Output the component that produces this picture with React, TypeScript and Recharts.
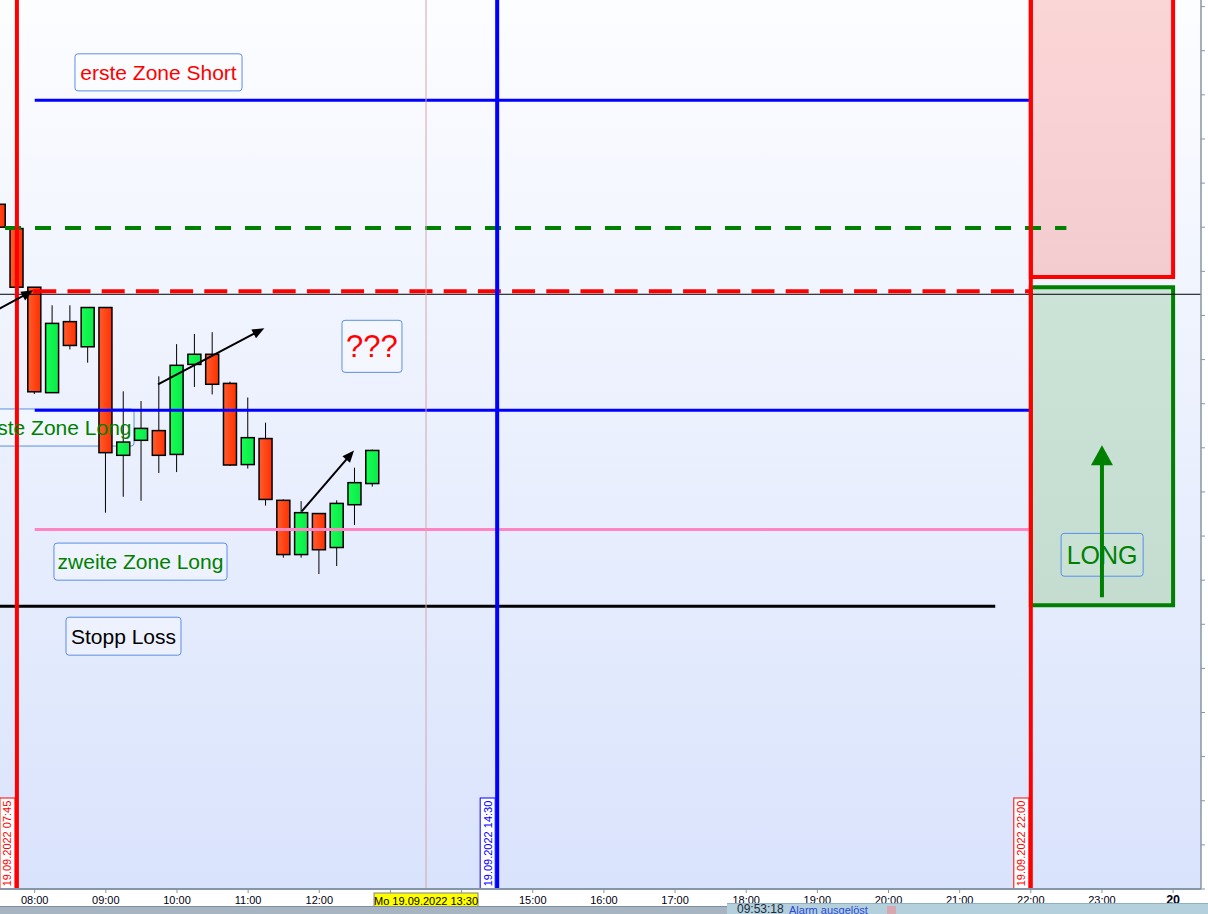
import React from 'react';
import { ComposedChart, Bar, XAxis, YAxis, ReferenceLine, ReferenceArea, CartesianGrid } from 'recharts';

const FONT = 'Arial, "Liberation Sans", sans-serif';

// ---- 15-minute candles (time in hours, prices) ----
const times = [7.5, 7.75, 8, 8.25, 8.5, 8.75, 9, 9.25, 9.5, 9.75, 10, 10.25, 10.5, 10.75, 11, 11.25, 11.5, 11.75, 12, 12.25, 12.5, 12.75];
const opens = [12815.2, 12809.7, 12796.4, 12772.5, 12788.6, 12782.9, 12791.8, 12758.3, 12761.7, 12763.9, 12758.5, 12778.9, 12781.2, 12774.6, 12756.2, 12762.1, 12748.1, 12735.8, 12745.1, 12737.4, 12747.1, 12751.9];
const highs = [12815.2, 12809.9, 12796.4, 12792.3, 12792.3, 12791.8, 12791.8, 12772.8, 12770.6, 12776.2, 12783.5, 12785.8, 12786.2, 12775.0, 12771.4, 12765.7, 12748.3, 12747.9, 12745.1, 12748.1, 12755.5, 12759.6];
const lows = [12809.9, 12796.2, 12772.2, 12772.5, 12782.3, 12779.3, 12745.3, 12748.9, 12748.0, 12754.3, 12754.5, 12773.8, 12772.1, 12755.9, 12755.3, 12746.9, 12735.1, 12735.1, 12731.4, 12733.2, 12742.5, 12751.2];
const closes = [12810.0, 12796.4, 12772.7, 12788.2, 12783.2, 12791.8, 12758.9, 12761.3, 12764.4, 12758.3, 12778.7, 12781.2, 12774.4, 12756.1, 12762.3, 12748.3, 12735.8, 12745.3, 12736.9, 12747.4, 12752.1, 12759.4];

// ---- axes ----
const X_DOMAIN: [number, number] = [7.5123, 24.392];
const Y_DOMAIN: [number, number] = [12660, 12861.5];
const xTicks = [8, 9, 10, 11, 12, 13, 14, 15, 16, 17, 18, 19, 20, 21, 22, 23, 24];
const xTickLabels = ['08:00', '09:00', '10:00', '11:00', '12:00', '13:00', '14:00', '15:00', '16:00', '17:00', '18:00', '19:00', '20:00', '21:00', '22:00', '23:00', '20'];
const yTicks = [12660, 12670, 12680, 12690, 12700, 12710, 12720, 12730, 12740, 12750, 12760, 12770, 12780, 12790, 12800, 12810, 12820, 12830, 12840, 12850, 12860];

// ---- horizontal levels ----
const levelPrices = [12838.8, 12809.8, 12795.5, 12768.5, 12741.5, 12724.1];
const levelStart = [8, 7.583, 7.98, 8, 8, 7.3];
const levelEnd = [22, 22.5, 22, 22, 22, 21.5];
const levelStyles = [
  { stroke: '#0000ff', w: 3, dash: undefined as string | undefined },
  { stroke: '#008000', w: 4, dash: '16 14' },
  { stroke: '#ff0000', w: 4, dash: '23 11.2' },
  { stroke: '#0000ff', w: 3, dash: undefined },
  { stroke: '#ff85c2', w: 3, dash: undefined },
  { stroke: '#000000', w: 3, dash: undefined },
];
const lastPrice = 12794.8;

// ---- vertical markers ----
const vTimes = [7.75, 14.5, 22];
const vLabels = ['19.09.2022 07:45', '19.09.2022 14:30', '19.09.2022 22:00'];
const vColors = ['#ff0000', '#0000ff', '#ff0000'];
const crossTime = 13.5;
const crossLabel = 'Mo 19.09.2022 13:30';

// ---- zones ----
const zoneX1 = [22, 22];
const zoneX2 = [24, 24];
const zoneLow = [12798.7, 12724.3];
const zoneHigh = [12875, 12796.4];
const zoneStyles = [
  { stroke: '#ff0000', fill: 'url(#zoneRed)' },
  { stroke: '#008000', fill: 'url(#zoneGreen)' },
];

// ---- notes ----
const noteTexts = ['erste Zone Short', '???', 'erste Zone Long', 'zweite Zone Long', 'Stopp Loss', 'LONG'];
const noteX1 = [8.566, 12.319, 7.175, 8.271, 8.44, 22.426];
const noteX2 = [10.914, 13.162, 9.396, 10.703, 10.056, 23.579];
const noteLow = [12840.9, 12777.1, 12760.4, 12730.0, 12713.0, 12730.9];
const noteHigh = [12849.3, 12788.9, 12768.8, 12738.4, 12721.6, 12740.6];
const noteStyles = [
  { color: '#ff0000', size: 21, fill: '#ffffff', op: 0.35 },
  { color: '#ff0000', size: 31, fill: '#ffffff', op: 0.35 },
  { color: '#008000', size: 21, fill: '#ffffff', op: 0.35 },
  { color: '#008000', size: 21, fill: '#ffffff', op: 0.35 },
  { color: '#000000', size: 21, fill: '#ffffff', op: 0.35 },
  { color: '#008000', size: 25, fill: '#c9e2d5', op: 1 },
];

// ---- arrows ----
const arrowFromT = [7.4, 9.733, 11.753, 23.0];
const arrowFromP = [12790.6, 12774.4, 12745.6, 12726.1];
const arrowToT = [7.98, 11.227, 12.488, 23.0];
const arrowToP = [12795.7, 12787.1, 12759.4, 12760.6];
const arrowStyles = [
  { color: '#000000', w: 2, len: 12, head: 10 },
  { color: '#000000', w: 2, len: 12, head: 10 },
  { color: '#000000', w: 2, len: 12, head: 10 },
  { color: '#008000', w: 4, len: 20, head: 22 },
];

const candleData = times.map((t, i) => ({
  t,
  range: [lows[i], highs[i]],
  o: opens[i],
  h: highs[i],
  l: lows[i],
  c: closes[i],
}));

const Candle = (props: any) => {
  const { x, y, width, height, payload } = props;
  if (!payload) return null;
  const { o, h, l, c } = payload;
  const ratio = height / (h - l || 1);
  const top = y + (h - Math.max(o, c)) * ratio;
  const bot = y + (h - Math.min(o, c)) * ratio;
  const cx = x + width / 2;
  const up = c >= o;
  return (
    <g>
      <line x1={cx} x2={cx} y1={y} y2={y + height} stroke="#000" strokeWidth={1} />
      <rect x={x} y={top} width={width} height={Math.max(1, bot - top)} fill={up ? 'url(#candleGreen)' : 'url(#candleRed)'} stroke="#000" strokeWidth={1.5} />
    </g>
  );
};

const XTick = (props: any) => {
  const { x, y, payload } = props;
  // labels under the crosshair time box are covered by it
  if (Math.abs(payload.value - crossTime) <= 0.75) return null;
  const idx = xTicks.indexOf(payload.value);
  const label = idx >= 0 ? xTickLabels[idx] : '';
  const bold = payload.value === 24;
  return (
    <text x={x} y={y + 9} textAnchor="middle" fontFamily={FONT} fontSize={bold ? 12.5 : 11} fontWeight={bold ? 'bold' : 'normal'} fill="#000010">
      {label}
    </text>
  );
};

const makeArrow = (s: { color: string; w: number; len: number; head: number }) => (p: any) => {
  const { x1, y1, x2, y2 } = p;
  const dx = x2 - x1;
  const dy = y2 - y1;
  const L = Math.hypot(dx, dy) || 1;
  const ux = dx / L;
  const uy = dy / L;
  const bx = x2 - ux * s.len;
  const by = y2 - uy * s.len;
  const px = -uy;
  const py = ux;
  const hw = s.head / 2;
  return (
    <g clipPath={p.clipPath}>
      <line x1={x1} y1={y1} x2={bx + ux * 2} y2={by + uy * 2} stroke={s.color} strokeWidth={s.w} />
      <polygon points={`${x2},${y2} ${bx + px * hw},${by + py * hw} ${bx - px * hw},${by - py * hw}`} fill={s.color} />
    </g>
  );
};

const vLabel = (text: string, color: string) => (props: any) => {
  const vb = props.viewBox || {};
  const bottom = vb.y + vb.height;
  const w = 15;
  const h = 91;
  const rx = vb.x - 2 - w;
  const ry = bottom - h;
  const cx = rx + w / 2;
  const cy = ry + h / 2;
  return (
    <g>
      <rect x={rx} y={ry} width={w} height={h} fill="#ffffff" stroke={color} strokeWidth={1} />
      <text x={cx} y={cy} textAnchor="middle" dominantBaseline="central" fontFamily={FONT} fontSize={11} fill={color} transform={`rotate(-90 ${cx} ${cy})`}>
        {text}
      </text>
    </g>
  );
};

const crossLabelRender = (props: any) => {
  const vb = props.viewBox || {};
  const bottom = vb.y + vb.height;
  const w = 104;
  return (
    <g>
      <rect x={vb.x - w / 2} y={bottom + 4} width={w} height={15} fill="#ffff00" stroke="#808080" strokeWidth={1} />
      <text x={vb.x} y={bottom + 15.5} textAnchor="middle" fontFamily={FONT} fontSize={11} fill="#000">
        {crossLabel}
      </text>
    </g>
  );
};

const noteShape = (s: { fill: string; op: number }) => (p: any) => (
  <rect x={p.x} y={p.y} width={p.width} height={p.height} rx={3} ry={3} fill={s.fill} fillOpacity={s.op} stroke="#5b8ee6" strokeWidth={1} clipPath={p.clipPath} />
);

export default function App() {
  return (
    <div style={{ position: 'absolute', left: 0, top: 0, width: 1208, height: 914, overflow: 'hidden', background: '#ffffff' }}>
      <svg width={0} height={0} style={{ position: 'absolute' }}>
        <defs>
          <linearGradient id="bgGrad" x1="0" y1="0" x2="0" y2="1">
            <stop offset="0%" stopColor="#fcfdff" />
            <stop offset="100%" stopColor="#d9e3fc" />
          </linearGradient>
          <linearGradient id="zoneRed" x1="0" y1="0" x2="0" y2="1">
            <stop offset="0%" stopColor="#fdd8d8" />
            <stop offset="100%" stopColor="#f3ccd0" />
          </linearGradient>
          <linearGradient id="zoneGreen" x1="0" y1="0" x2="0" y2="1">
            <stop offset="0%" stopColor="#cbe4d7" />
            <stop offset="100%" stopColor="#c4ddd0" />
          </linearGradient>
          <linearGradient id="candleRed" x1="0" y1="0" x2="1" y2="0">
            <stop offset="0%" stopColor="#ff5c2e" />
            <stop offset="100%" stopColor="#ff3000" />
          </linearGradient>
          <linearGradient id="candleGreen" x1="0" y1="0" x2="1" y2="0">
            <stop offset="0%" stopColor="#14ff52" />
            <stop offset="100%" stopColor="#0ee84a" />
          </linearGradient>
        </defs>
      </svg>
      <ComposedChart width={1208} height={914} data={candleData} margin={{ top: 0, right: 0, bottom: 0, left: 0 }}>
        <CartesianGrid horizontal={false} vertical={false} fill="url(#bgGrad)" />
        <XAxis
          dataKey="t"
          type="number"
          domain={X_DOMAIN}
          allowDataOverflow
          ticks={xTicks}
          interval={0}
          height={25}
          tickSize={4}
          tickMargin={2}
          tick={<XTick />}
          axisLine={{ stroke: '#8796a5', strokeWidth: 2 }}
          tickLine={{ stroke: '#8796a5' }}
        />
        <YAxis
          yAxisId={0}
          orientation="right"
          type="number"
          domain={Y_DOMAIN}
          allowDataOverflow
          ticks={yTicks}
          interval={0}
          width={7}
          tickSize={4}
          tickFormatter={() => ''}
          axisLine={{ stroke: '#8796a5', strokeWidth: 1.5 }}
          tickLine={{ stroke: '#8796a5' }}
        />
        {zoneX1.map((x1, i) => (
          <ReferenceArea
            key={'zone' + i}
            x1={x1}
            x2={zoneX2[i]}
            y1={zoneLow[i]}
            y2={zoneHigh[i]}
            ifOverflow="hidden"
            fill={zoneStyles[i].fill}
            fillOpacity={1}
            stroke={zoneStyles[i].stroke}
            strokeWidth={4}
          />
        ))}
        <Bar dataKey="range" barSize={13} shape={<Candle />} isAnimationActive={false} />
        {levelPrices.map((p, i) => (
          <ReferenceLine
            key={'lvl' + i}
            segment={[{ x: levelStart[i], y: p }, { x: levelEnd[i], y: p }]}
            ifOverflow="hidden"
            stroke={levelStyles[i].stroke}
            strokeWidth={levelStyles[i].w}
            strokeDasharray={levelStyles[i].dash}
          />
        ))}
        <ReferenceLine y={lastPrice} stroke="#000000" strokeWidth={1} />
        <ReferenceLine x={crossTime} stroke="#d6a4ac" strokeWidth={1} label={crossLabelRender} />
        {vTimes.map((t, i) => (
          <ReferenceLine key={'v' + i} x={t} stroke={vColors[i]} strokeWidth={4} label={vLabel(vLabels[i], vColors[i])} />
        ))}
        {arrowFromT.map((t, i) => (
          <ReferenceLine
            key={'arr' + i}
            segment={[{ x: t, y: arrowFromP[i] }, { x: arrowToT[i], y: arrowToP[i] }]}
            ifOverflow="hidden"
            shape={makeArrow(arrowStyles[i])}
          />
        ))}
        {noteTexts.map((txt, i) => (
          <ReferenceArea
            key={'note' + i}
            x1={noteX1[i]}
            x2={noteX2[i]}
            y1={noteLow[i]}
            y2={noteHigh[i]}
            ifOverflow="hidden"
            shape={noteShape(noteStyles[i])}
            label={{ value: txt, position: 'center', fill: noteStyles[i].color, fontSize: noteStyles[i].size, fontFamily: FONT }}
          />
        ))}
      </ComposedChart>
      <div style={{ position: 'absolute', left: 0, top: 906, width: 727, height: 8, background: '#a7b5c2', borderTop: '1px solid #7d8e9c' }} />
      <div style={{ position: 'absolute', left: 727, top: 903, width: 481, height: 11, background: '#b3d0dc', borderTop: '1px solid #8fb0c0', overflow: 'hidden', fontFamily: FONT }}>
        <span style={{ position: 'absolute', left: 10, top: -2, fontSize: 12, color: '#1a2a3a', whiteSpace: 'nowrap' }}>09:53:18</span>
        <span style={{ position: 'absolute', left: 62, top: 0, fontSize: 11, color: '#2a4ad8', whiteSpace: 'nowrap' }}>Alarm ausgelöst</span>
        <span style={{ position: 'absolute', left: 160, top: 2, width: 9, height: 9, background: '#d8a8b0' }} />
      </div>
    </div>
  );
}
